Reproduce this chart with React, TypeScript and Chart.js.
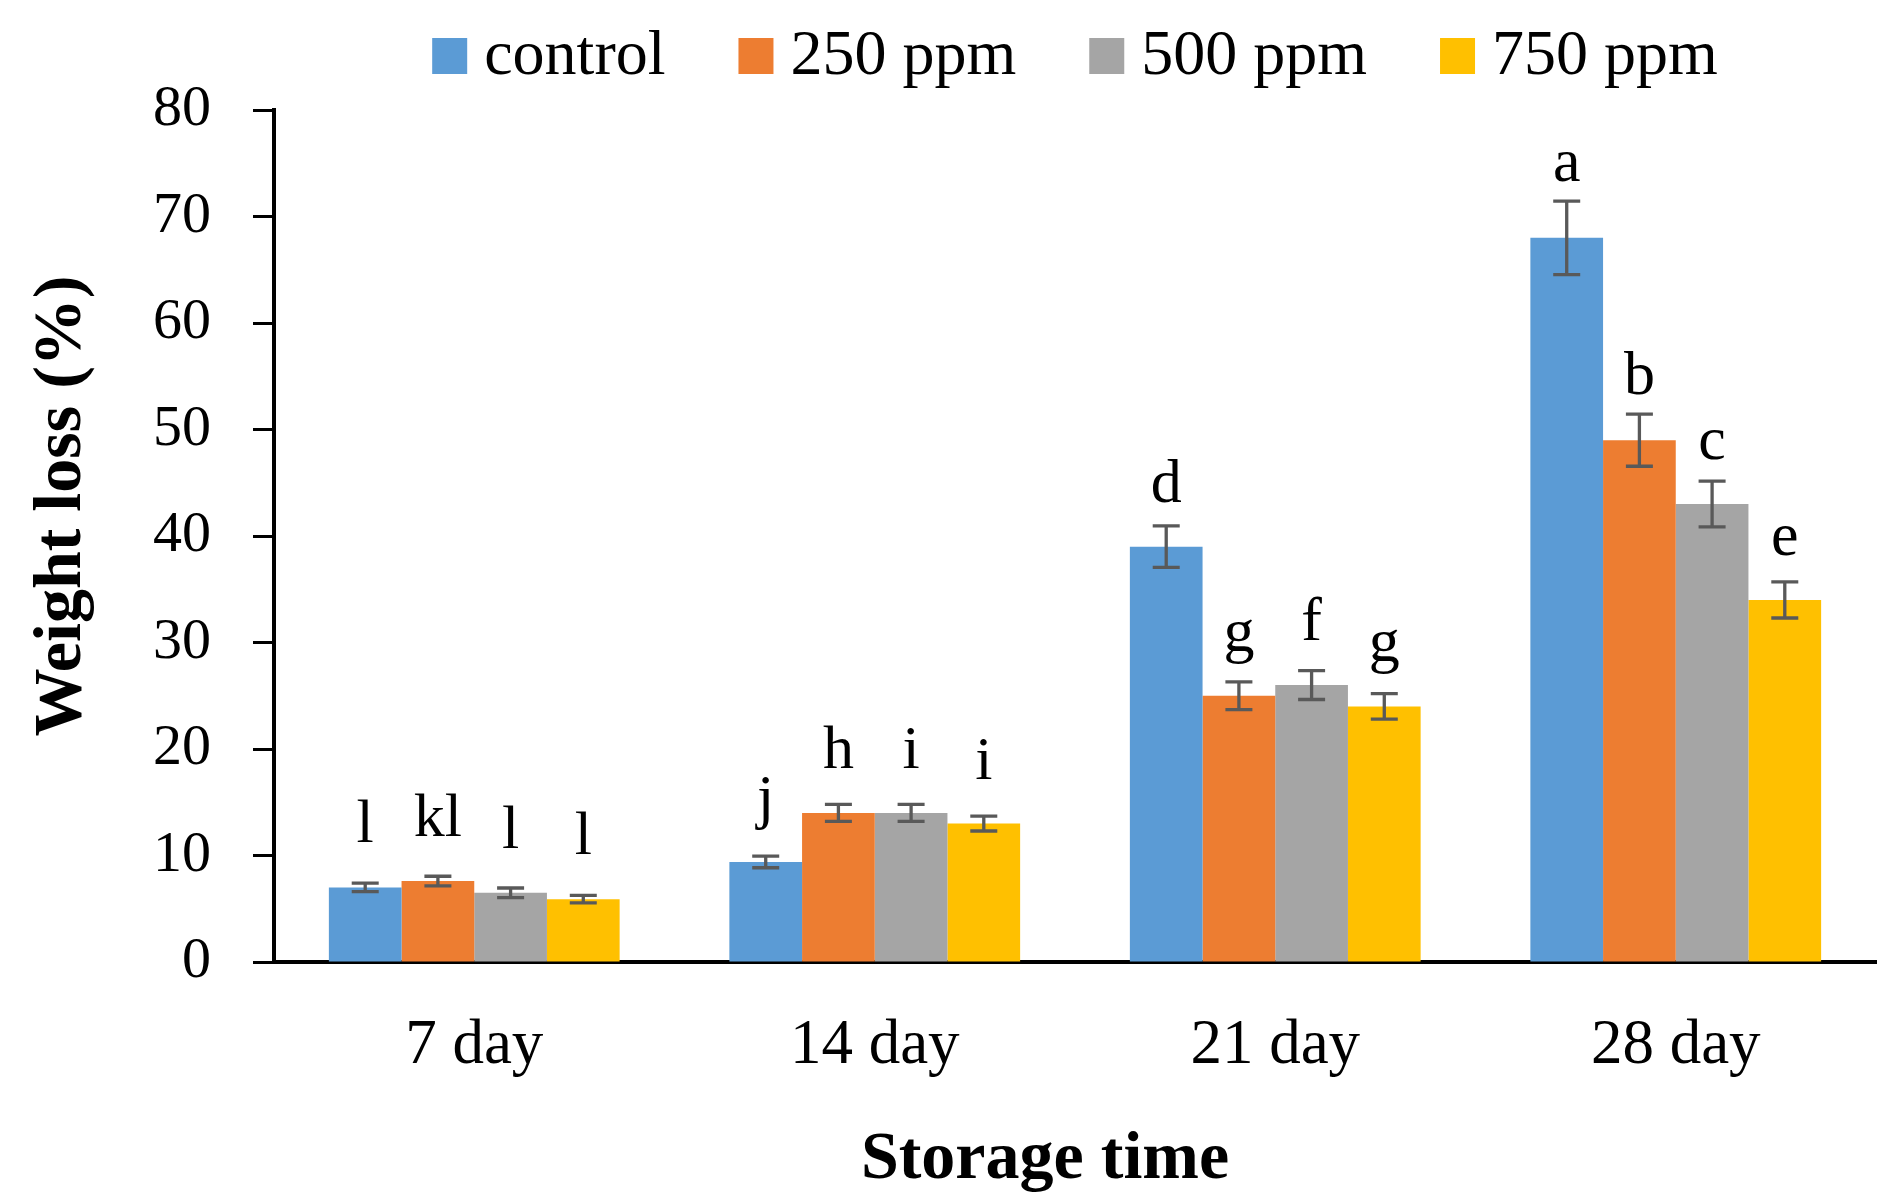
import React, { useEffect, useRef } from "react";
import { Chart, registerables } from "chart.js";

Chart.register(...registerables);

const categories = ["7 day", "14 day", "21 day", "28 day"];
const seriesNames = ["control", "250 ppm", "500 ppm", "750 ppm"];
const seriesColors = ["#5B9BD5", "#ED7D31", "#A5A5A5", "#FFC000"];

const controlValues = [7.0, 9.4, 39.0, 68.0];
const ppm250Values = [7.6, 14.0, 25.0, 49.0];
const ppm500Values = [6.5, 14.0, 26.0, 43.0];
const ppm750Values = [5.9, 13.0, 24.0, 34.0];

const controlErrors = [0.4, 0.55, 1.95, 3.45];
const ppm250Errors = [0.45, 0.8, 1.3, 2.45];
const ppm500Errors = [0.45, 0.8, 1.35, 2.15];
const ppm750Errors = [0.35, 0.7, 1.2, 1.7];

const controlLetters = ["l", "j", "d", "a"];
const ppm250Letters = ["kl", "h", "g", "b"];
const ppm500Letters = ["l", "i", "f", "c"];
const ppm750Letters = ["l", "i", "g", "e"];

const yMin = 0;
const yMax = 80;
const yStep = 10;

const yAxisTitle = "Weight loss (%)";
const xAxisTitle = "Storage time";

const FONT = "'Liberation Serif', 'Times New Roman', serif";

const errorBarPlugin = {
  id: "errorBarsAndLetters",
  afterDatasetsDraw(chart: any) {
    const ctx = chart.ctx;
    const yScale = chart.scales.y;
    chart.data.datasets.forEach((ds: any, di: number) => {
      const meta = chart.getDatasetMeta(di);
      meta.data.forEach((bar: any, i: number) => {
        const v = ds.data[i];
        const e = ds.errors[i];
        const x = bar.x;
        const yTop = yScale.getPixelForValue(v + e);
        const yBot = yScale.getPixelForValue(v - e);
        const half = 13.5;
        ctx.save();
        ctx.strokeStyle = "#595959";
        ctx.lineWidth = 3.3;
        ctx.beginPath();
        ctx.moveTo(x, yTop);
        ctx.lineTo(x, yBot);
        ctx.moveTo(x - half, yTop);
        ctx.lineTo(x + half, yTop);
        ctx.moveTo(x - half, yBot);
        ctx.lineTo(x + half, yBot);
        ctx.stroke();
        const baseline = Math.min(bar.y - 45, yTop - 20);
        ctx.fillStyle = "#000";
        ctx.font = `62px ${FONT}`;
        ctx.textAlign = "center";
        ctx.textBaseline = "alphabetic";
        ctx.fillText(ds.letters[i], x, baseline);
        ctx.restore();
      });
    });
  },
};

const legendTitlePlugin = {
  id: "legendAndTitles",
  afterDraw(chart: any) {
    const ctx = chart.ctx;
    const area = chart.chartArea;
    ctx.save();
    // legend
    ctx.font = `64px ${FONT}`;
    const boxW = 35;
    const boxH = 36;
    const gapText = 17;
    const gapItem = 73;
    const widths = chart.data.datasets.map((ds: any) => ctx.measureText(ds.label).width);
    const total =
      widths.reduce((a: number, w: number) => a + boxW + gapText + w, 0) +
      gapItem * (widths.length - 1);
    let x = (area.left + area.right) / 2 - total / 2;
    const boxTop = 38;
    const textBase = 74;
    chart.data.datasets.forEach((ds: any, i: number) => {
      ctx.fillStyle = ds.backgroundColor;
      ctx.fillRect(x, boxTop, boxW, boxH);
      ctx.fillStyle = "#000";
      ctx.textAlign = "left";
      ctx.textBaseline = "alphabetic";
      ctx.fillText(ds.label, x + boxW + gapText, textBase);
      x += boxW + gapText + widths[i] + gapItem;
    });
    // x title
    ctx.font = `bold 68px ${FONT}`;
    ctx.textAlign = "center";
    ctx.textBaseline = "alphabetic";
    ctx.fillText(xAxisTitle, (area.left + area.right) / 2 - 30, 1178);
    // y title
    ctx.translate(80, (area.top + area.bottom) / 2 - 30);
    ctx.rotate(-Math.PI / 2);
    ctx.fillText(yAxisTitle, 0, 0);
    ctx.restore();
  },
};

export default function App() {
  const canvasRef = useRef<HTMLCanvasElement | null>(null);

  useEffect(() => {
    document.body.style.margin = "0";
    const canvas = canvasRef.current;
    if (!canvas) return;
    const valueSets = [controlValues, ppm250Values, ppm500Values, ppm750Values];
    const errorSets = [controlErrors, ppm250Errors, ppm500Errors, ppm750Errors];
    const letterSets = [controlLetters, ppm250Letters, ppm500Letters, ppm750Letters];
    const chart = new Chart(canvas, {
      type: "bar",
      data: {
        labels: categories,
        datasets: seriesNames.map((name, i) => ({
          label: name,
          data: valueSets[i],
          errors: errorSets[i],
          letters: letterSets[i],
          backgroundColor: seriesColors[i],
          borderWidth: 0,
          barPercentage: 1,
          categoryPercentage: 0.726,
        })) as any,
      },
      options: {
        responsive: false,
        animation: false,
        devicePixelRatio: 1,
        layout: { padding: { top: 110, right: 20, left: 0, bottom: 0 } },
        plugins: {
          legend: { display: false },
          tooltip: { enabled: false },
          title: { display: false },
        },
        scales: {
          x: {
            ticks: {
              font: { family: FONT, size: 63 },
              color: "#000",
              padding: 47,
            },
            grid: { display: false, drawTicks: false },
            border: { display: true, color: "#000", width: 4 },
            afterFit: (s: any) => {
              s.height = 241;
            },
          },
          y: {
            min: yMin,
            max: yMax,
            ticks: {
              stepSize: yStep,
              font: { family: FONT, size: 58 },
              color: "#000",
              padding: 42,
            },
            grid: {
              drawOnChartArea: false,
              drawTicks: true,
              tickLength: 21,
              tickWidth: 3,
              tickColor: "#000",
            },
            border: { display: true, color: "#000", width: 4 },
            afterFit: (s: any) => {
              s.width = 274;
            },
          },
        },
      },
      plugins: [errorBarPlugin, legendTitlePlugin],
    });
    return () => chart.destroy();
  }, []);

  return (
    <div style={{ width: 1896, height: 1203, background: "#fff" }}>
      <canvas
        ref={canvasRef}
        width={1896}
        height={1203}
        style={{ display: "block", width: 1896, height: 1203 }}
      />
    </div>
  );
}
